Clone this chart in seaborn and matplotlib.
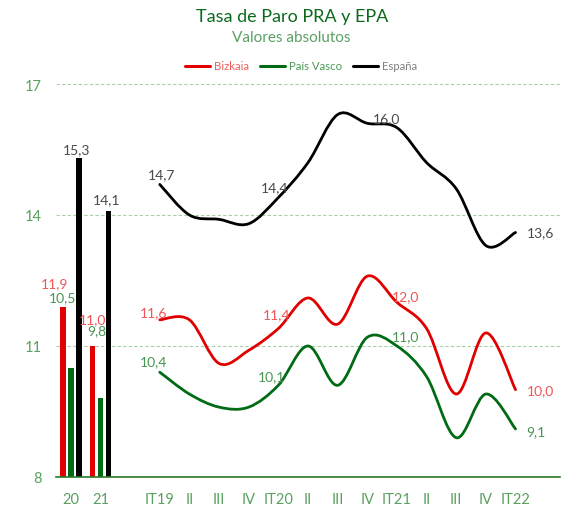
import matplotlib
matplotlib.use("Agg")
import matplotlib.pyplot as plt
from matplotlib.path import Path
from matplotlib.patches import PathPatch
from matplotlib.lines import Line2D
import seaborn as sns
import pandas as pd
import numpy as np

# category axis: two annual bars, an empty slot, 13 quarters, an empty slot
categories = ["20", "21", "", "IT19", "II", "III", "IV", "IT20", "II", "III", "IV",
              "IT21", "II", "III", "IV", "IT22", ""]

years = ["20", "21"]
bizkaia_year = [11.9, 11.0]
pv_year = [10.5, 9.8]
espana_year = [15.3, 14.1]

quarter_pos = list(range(3, 16))
bizkaia_q = [11.6, 11.6, 10.6, 10.9, 11.4, 12.1, 11.5, 12.6, 12.0, 11.4, 9.9, 11.3, 10.0]
pv_q = [10.4, 9.9, 9.6, 9.6, 10.1, 11.0, 10.1, 11.2, 11.0, 10.3, 8.9, 9.9, 9.1]
espana_q = [14.7, 14.0, 13.9, 13.8, 14.4, 15.2, 16.3, 16.1, 16.0, 15.2, 14.6, 13.3, 13.6]

# quarters that carry a value label (IT19, IT20, IT21, IT22)
labelled = [0, 4, 8, 12]

series = ["Bizkaia", "País Vasco", "España"]
line_col = {"Bizkaia": "#e00000", "País Vasco": "#006a15", "España": "#000000"}
text_col = {"Bizkaia": "#ee5555", "País Vasco": "#4a9552", "España": "#4a4a4a"}
legend_col = {"Bizkaia": "#f06060", "País Vasco": "#4e9a56", "España": "#808080"}

sns.set_style("white")
plt.rcParams["font.family"] = ["Lato", "DejaVu Sans"]

fig = plt.figure(figsize=(5.61, 5.06), dpi=100)
ax = fig.add_axes([56 / 561, 28 / 506, 504 / 561, 393 / 506])

bars = pd.DataFrame({
    "year": years * 3,
    "serie": ["Bizkaia"] * 2 + ["País Vasco"] * 2 + ["España"] * 2,
    "valor": bizkaia_year + pv_year + espana_year,
})
sns.barplot(data=bars, x="year", y="valor", hue="serie", order=years,
            hue_order=series, palette=line_col, width=0.81, gap=0.28,
            linewidth=0, saturation=1, legend=False, ax=ax)


def smooth_path(xs, ys):
    pts = np.column_stack([xs, ys]).astype(float)
    n = len(pts)
    verts = [pts[0]]
    codes = [Path.MOVETO]
    for i in range(n - 1):
        p0 = pts[i - 1] if i > 0 else pts[i]
        p1 = pts[i]
        p2 = pts[i + 1]
        p3 = pts[i + 2] if i + 2 < n else pts[i + 1]
        verts += [p1 + (p2 - p0) / 6, p2 - (p3 - p1) / 6, p2]
        codes += [Path.CURVE4] * 3
    return Path(verts, codes)


qvals = {"Bizkaia": bizkaia_q, "País Vasco": pv_q, "España": espana_q}
for s in series:
    ax.add_patch(PathPatch(smooth_path(quarter_pos, qvals[s]), fill=False,
                           edgecolor=line_col[s], lw=2.0, capstyle="round",
                           zorder=3))

# value labels on the lines (offsets in pixels)
line_offsets = {
    "España": [(2, 10), (-4, 10), (-10, 10), (11, 0)],
    "Bizkaia": [(-6, 8), (-2, 14), (9, 6), (11, 0)],
    "País Vasco": [(-6, 11), (-7, 9), (9, 10), (11, -2)],
}
for s in series:
    for j, k in enumerate(labelled):
        dx, dy = line_offsets[s][j]
        v = qvals[s][k]
        ax.annotate(f"{v:.1f}".replace(".", ","), (quarter_pos[k], v),
                    xytext=(dx, dy), textcoords="offset pixels",
                    ha="left" if j == 3 else "center", va="center",
                    color=text_col[s], fontsize=10, zorder=5)

# value labels on the bars
bar_offsets = {
    "Bizkaia": [(-8, 24), (0, 27)],
    "País Vasco": [(-8, 71), (-4, 68)],
    "España": [(-2, 9), (-2, 11)],
}
for s, cont in zip(series, ax.containers):
    for j, b in enumerate(cont):
        dx, dy = bar_offsets[s][j]
        ax.annotate(f"{b.get_height():.1f}".replace(".", ","),
                    (b.get_x() + b.get_width() / 2, b.get_height()),
                    xytext=(dx, dy), textcoords="offset pixels",
                    ha="center", va="center", color=text_col[s],
                    fontsize=10, zorder=5)

ax.set_xlim(-0.5, len(categories) - 0.5)
ax.set_ylim(8, 17)
ax.set_xticks(range(len(categories)))
ax.set_xticklabels(categories)
ax.set_xticks(np.arange(-0.5, len(categories), 1.0), minor=True)
ax.set_yticks([8, 11, 14, 17])
ax.set_xlabel("")
ax.set_ylabel("")

ax.tick_params(axis="x", which="major", length=0, pad=11, labelsize=10.5,
               labelcolor="#5aa060")
ax.tick_params(axis="x", which="minor", length=3.5, width=1, color="#5a9a5a",
               direction="out")
ax.tick_params(axis="y", length=0, pad=10, labelsize=10.5, labelcolor="#5aa060")

ax.yaxis.grid(True, color="#a8d0a8", linestyle=(0, (3, 2)), lw=0.8)
ax.xaxis.grid(False)
ax.set_axisbelow(True)
for side in ["left", "right", "top"]:
    ax.spines[side].set_visible(False)
ax.spines["bottom"].set_color("#2a7a2a")
ax.spines["bottom"].set_linewidth(1.2)

fig.text(0.5205, 1 - 17 / 506, "Tasa de Paro PRA y EPA", ha="center",
         va="center", fontsize=13, color="#0b6a1c")
fig.text(0.5185, 1 - 38 / 506, "Valores absolutos", ha="center", va="center",
         fontsize=11, color="#5aa064")

handles = [Line2D([], [], color=line_col[s], lw=2.2) for s in series]
leg = fig.legend(handles, series, loc="center", ncol=3,
                 bbox_to_anchor=(0.5365, 1 - 67 / 506), frameon=False,
                 fontsize=8.2, handlelength=2.2, handletextpad=0.3,
                 columnspacing=1.0)
for t, s in zip(leg.get_texts(), series):
    t.set_color(legend_col[s])

fig.savefig("out.png", dpi=100)
